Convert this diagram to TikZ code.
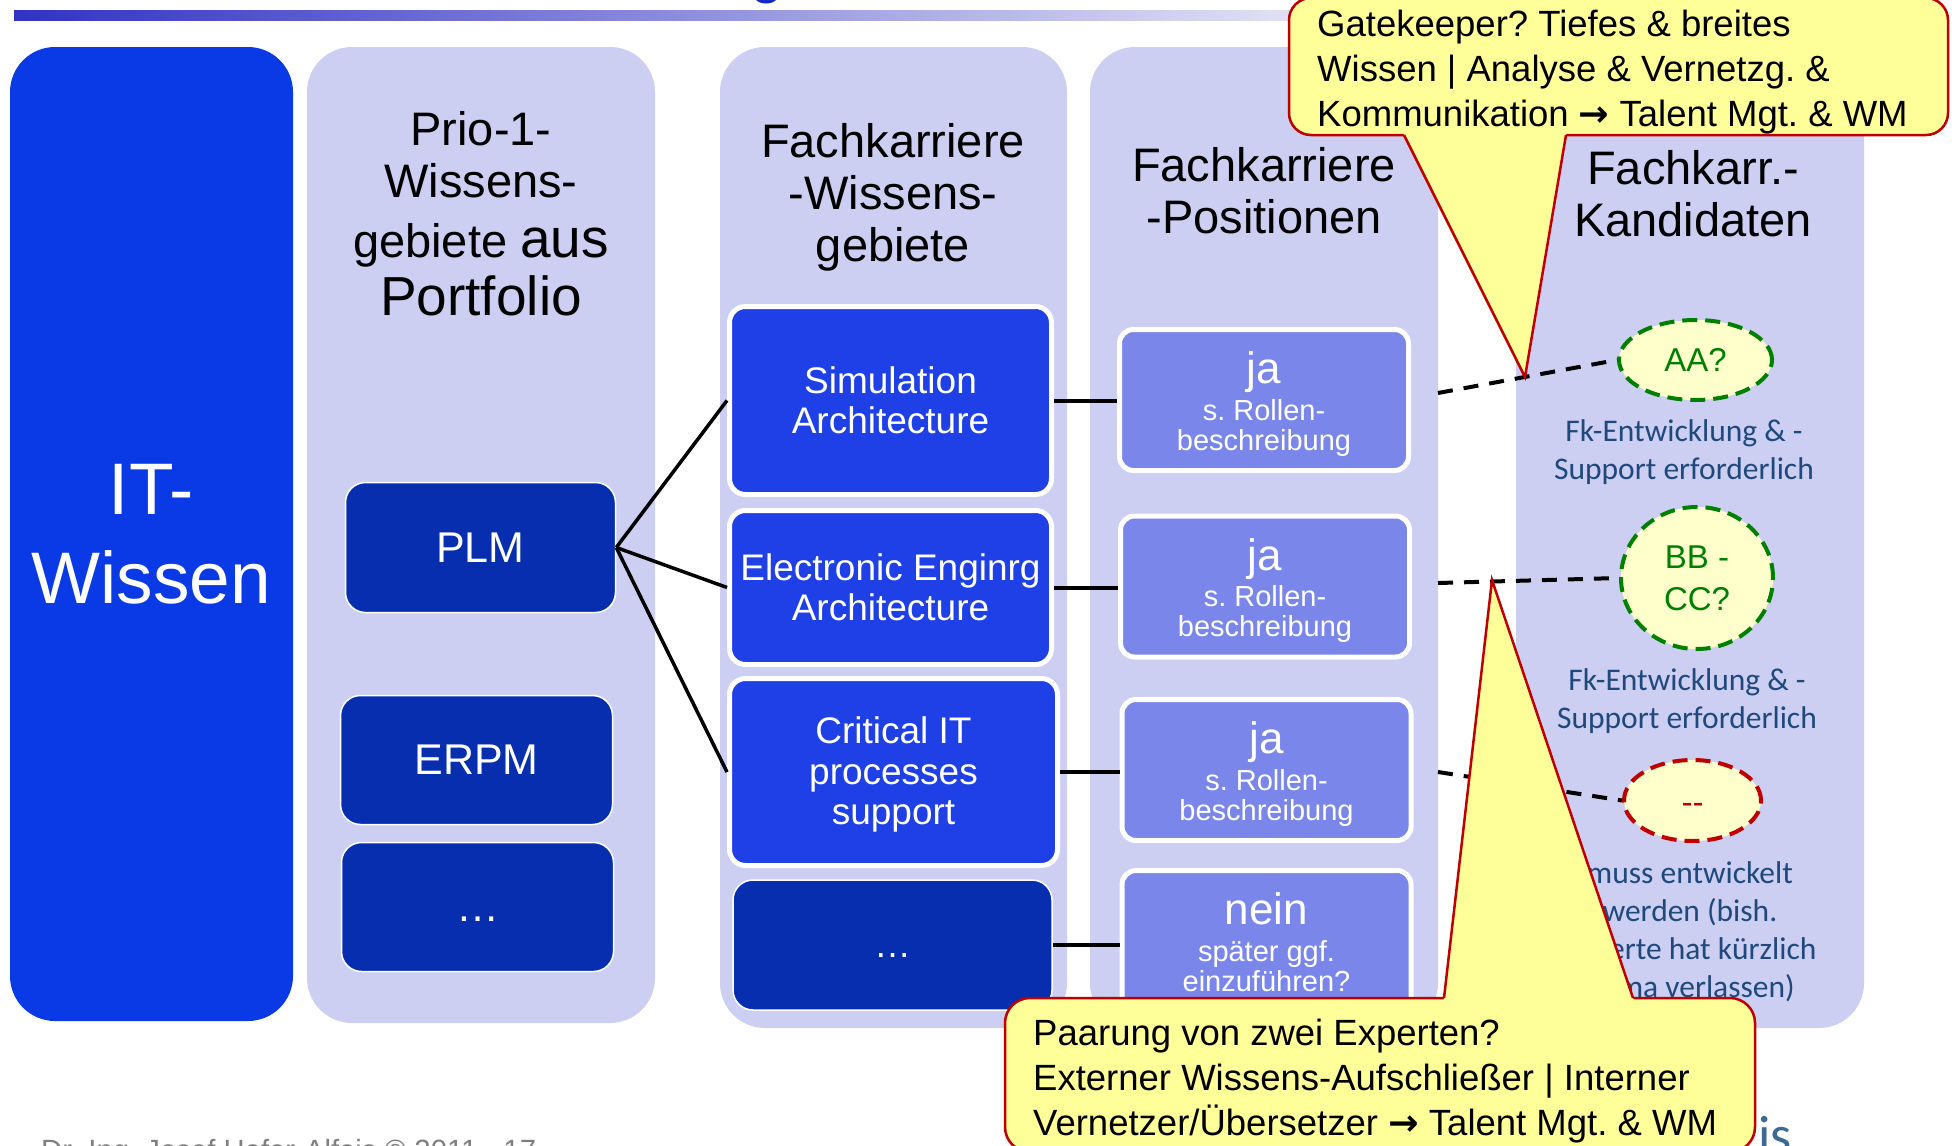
\documentclass[tikz,border=0pt]{standalone}
\usepackage{fontspec}
\setmainfont{Liberation Sans}
\newfontfamily\calfont{Carlito}
\newfontfamily\symfont{DejaVu Sans}
\usetikzlibrary{shapes.geometric,calc}

\definecolor{barleft}{RGB}{50,50,196}
\definecolor{barright}{RGB}{226,226,245}
\definecolor{itblue}{RGB}{10,58,230}
\definecolor{lavender}{RGB}{204,206,242}
\definecolor{deepblue}{RGB}{6,46,174}
\definecolor{areablue}{RGB}{31,64,230}
\definecolor{posblue}{RGB}{123,134,234}
\definecolor{noteyellow}{RGB}{255,255,153}
\definecolor{notered}{RGB}{192,0,0}
\definecolor{candfill}{RGB}{255,255,204}
\definecolor{candgreen}{RGB}{0,128,0}
\definecolor{candred}{RGB}{192,0,0}
\definecolor{remarkblue}{RGB}{31,73,125}
\definecolor{footgray}{RGB}{128,128,128}
\definecolor{logoblue}{RGB}{60,105,150}
\definecolor{headblue}{RGB}{20,40,200}

\newcommand\fsz[2]{\fontsize{#1pt}{#2pt}\selectfont}
\newcommand\bigarrow{{\symfont\bfseries →}}

\begin{document}
\frenchspacing
\begin{tikzpicture}[x=1pt,y=-1pt,
  colbg/.style={fill=lavender, rounded corners=45pt, inner sep=0pt},
  prioitem/.style={fill=deepblue, draw=white, line width=1.5pt, rounded corners=20pt,
    minimum width=270pt, minimum height=130pt, text=white, font=\fsz{43}{50}, inner sep=0pt},
  areabox/.style={fill=areablue, draw=white, line width=5pt, rounded corners=16pt,
    text=white, font=\fsz{37}{40.5}, align=center, inner sep=0pt},
  posbox/.style={fill=posblue, draw=white, line width=5pt, rounded corners=14pt,
    minimum width=289pt, minimum height=141pt, text=white, font=\fsz{29}{30},
    align=center, inner sep=0pt},
  coltitle/.style={font=\fsz{47}{52}, align=center, inner sep=0pt},
  cand/.style={ellipse, fill=candfill, line width=4pt, dash pattern=on 15pt off 8pt,
    inner sep=0pt, font=\fsz{33}{42}, align=center},
  remark/.style={font=\calfont\fsz{31.5}{38}, text=remarkblue, align=center, inner sep=0pt},
  link/.style={line width=3.5pt},
  poslink/.style={line width=4pt},
  candlink/.style={line width=4pt, dash pattern=on 15pt off 11pt},
  note/.style={fill=noteyellow, draw=notered, line width=2.5pt},
  notetext/.style={font=\fsz{36.5}{45}, align=left, inner sep=0pt, anchor=north west}
]
\useasboundingbox (0,0) rectangle (1952,1146);
\fill[white] (0,0) rectangle (1952,1146);

% heading remnants: descender of the title and the gradient rule
\node[anchor=base, inner sep=0pt, text=headblue, font=\fsz{60}{60}] (headfrag) at (767,-9) {g};
\shade[left color=barleft, right color=barright] (14,10) rectangle (1300,20);

% column backgrounds
\node[colbg, fill=itblue, minimum width=283pt, minimum height=974pt, text=white,
      font=\fsz{73}{89}, align=center] (itcol) at (151.5,534) {IT-\\Wissen};
\node[colbg, minimum width=348pt, minimum height=976pt] (priocol) at (481,535) {};
\node[colbg, minimum width=347pt, minimum height=981pt] (areacol) at (893.5,537.5) {};
\node[colbg, minimum width=348pt, minimum height=981pt] (poscol) at (1264,537.5) {};
\node[colbg, minimum width=348pt, minimum height=981pt] (candcol) at (1690,537.5) {};

% column headings
\node[coltitle] (priotitle) at (481,214)
  {Prio-1-\\Wissens-\\[8pt]gebiete {\fsz{55}{60}aus}\\[6pt]{\fsz{55}{60}Portfolio}};
\node[coltitle] (areatitle) at (893,197) {Fachkarriere\\-Wissens-\\gebiete};
\node[coltitle] (postitle) at (1264,190.5) {Fachkarriere\\-Positionen};
\node[coltitle] (candtitle) at (1693,193.5) {Fachkarr.-\\Kandidaten};

% priority-1 knowledge areas
\node[prioitem] (plm) at (480.5,547.5) {PLM};
\node[prioitem, minimum width=272pt, minimum height=129pt] (erpm) at (476.5,760) {ERPM};
\node[prioitem, minimum width=272pt, minimum height=129pt] (priomore) at (477.5,907) {\vphantom{E}…};

% specialist knowledge areas
\node[areabox, minimum width=322pt, minimum height=188pt] (sim) at (890.5,400.5) {Simulation\\Architecture};
\node[areabox, minimum width=322pt, minimum height=154pt] (elec) at (890.5,587.5) {Electronic Enginrg\\Architecture};
\node[areabox, minimum width=328pt, minimum height=187pt] (crit) at (893.5,772) {\rule{0pt}{32pt}Critical IT\\processes\\support};
\node[prioitem, minimum width=319pt, minimum height=130pt, font=\fsz{37}{40}] (areamore) at (892.5,945) {\vphantom{E}…};

% specialist positions
\node[posbox] (pos1) at (1264,400) {{\fsz{44}{44}\rule{0pt}{40pt}ja}\\[5pt]s. Rollen-\\beschreibung};
\node[posbox] (pos2) at (1265,586.5) {{\fsz{44}{44}\rule{0pt}{40pt}ja}\\[5pt]s. Rollen-\\beschreibung};
\node[posbox] (pos3) at (1266.5,770) {{\fsz{44}{44}\rule{0pt}{40pt}ja}\\[5pt]s. Rollen-\\beschreibung};
\node[posbox] (pos4) at (1266.5,941) {{\fsz{44}{44}\rule{0pt}{34pt}nein}\\[7pt]später ggf.\\einzuführen?};

% links between the columns
\draw[link] (plm.east) -- (sim.west);
\draw[link] (plm.east) -- (elec.west);
\draw[link] (plm.east) -- (crit.west);
\draw[poslink] (sim.east) -- (sim.east -| pos1.west);
\draw[poslink] (elec.east) -- (elec.east -| pos2.west);
\draw[poslink] (crit.east) -- (crit.east -| pos3.west);
\draw[poslink] (areamore.east) -- (areamore.east -| pos4.west);

% candidates
\node[cand, draw=candgreen, text=candgreen, minimum width=153pt, minimum height=80pt] (aa) at (1695.5,360) {AA?};
\node[cand, draw=candgreen, text=candgreen, minimum width=152pt, minimum height=142pt] (bb) at (1697,578) {BB -\\CC?};
\node[cand, draw=candred, text=candred, minimum width=137pt, minimum height=81pt] (dd) at (1692.5,800.5) {\rule{0pt}{25pt}-{}-};

\node[remark] (fk1) at (1684,452.5) {Fk-Entwicklung \& -\\Support erforderlich};
\node[remark] (fk2) at (1687,701) {Fk-Entwicklung \& -\\Support erforderlich};
\node[remark] (fk3) at (1690,932) {muss entwickelt\\werden (bish.\\Experte hat kürzlich\\Firma verlassen)};

\coordinate (d1) at (1438,393);
\coordinate (d2) at (1438,583);
\coordinate (d3) at (1438,772);
\draw[candlink] (d1) -- (aa.west);
\draw[candlink] (d2) -- (bb.west);
\draw[candlink] (d3) -- (dd.west);

% footer and logo remnants
\node[anchor=base west, inner sep=0pt, text=footgray, font=\fsz{29.3}{30}] (footer) at (41,1160)
  {Dr.-Ing. Josef Hofer-Alfeis © 2011 - 17};
\node[anchor=base west, inner sep=0pt, text=logoblue, font=\calfont\fsz{54}{54}] (logo) at (1758,1153) {is};

% callout: gatekeeper
\draw[note, rounded corners=22pt] (1289,-2) rectangle (1948,135);
\fill[noteyellow] (1401.5,130) -- (1525,377) -- (1566.85,130) -- cycle;
\draw[notered, line width=2.5pt] (1404,135) -- (1525,377) -- (1566,135);
\node[notetext] (gatekeeper) at (1317,9.5)
  {Gatekeeper? Tiefes \& breites\\Wissen | Analyse \& Vernetzg. \&\\Kommunikation \bigarrow{} Talent Mgt. \& WM};

% callout: pairing of experts
\draw[note, rounded corners=25pt] (1005,998) rectangle (1755,1152);
\fill[noteyellow] (1443.4,1003) -- (1492,580) -- (1634.7,1003) -- cycle;
\draw[notered, line width=2.5pt] (1444,998) -- (1492,580) -- (1633,998);
\node[notetext] (pairing) at (1033,1019)
  {Paarung von zwei Experten?\\Externer Wissens-Aufschließer | Interner\\Vernetzer/Übersetzer \bigarrow{} Talent Mgt. \& WM};
\end{tikzpicture}
\end{document}
